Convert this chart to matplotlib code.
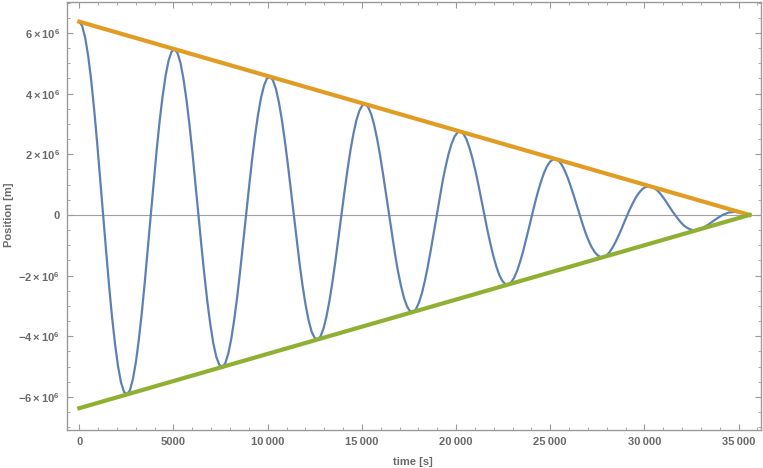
import matplotlib
matplotlib.use("Agg")
import matplotlib.pyplot as plt
from matplotlib.ticker import FixedLocator, MultipleLocator, FuncFormatter

# ---- Data, position in units of 1e6 m
t = [0, 158, 316, 474, 633, 791, 949, 1107, 1265, 1423, 1581, 1739, 1898, 2056, 2214, 2372,
     2530, 2688, 2846, 3004, 3163, 3321, 3479, 3637, 3795, 3953, 4111, 4269, 4428, 4586, 4744, 4902,
     5060, 5218, 5376, 5534, 5693, 5851, 6009, 6167, 6325, 6483, 6641, 6799, 6958, 7116, 7274, 7432,
     7590, 7748, 7906, 8064, 8223, 8381, 8539, 8697, 8855, 9013, 9171, 9329, 9488, 9646, 9804, 9962,
     10120, 10278, 10436, 10594, 10753, 10911, 11069, 11227, 11385, 11543, 11701, 11859, 12018, 12176, 12334, 12492,
     12650, 12808, 12966, 13124, 13283, 13441, 13599, 13757, 13915, 14073, 14231, 14389, 14548, 14706, 14864, 15022,
     15180, 15338, 15496, 15654, 15813, 15971, 16129, 16287, 16445, 16603, 16761, 16919, 17078, 17236, 17394, 17552,
     17710, 17868, 18026, 18184, 18343, 18501, 18659, 18817, 18975, 19133, 19291, 19449, 19608, 19766, 19924, 20082,
     20240, 20398, 20556, 20714, 20873, 21031, 21189, 21347, 21505, 21663, 21821, 21979, 22138, 22296, 22454, 22612,
     22770, 22928, 23086, 23244, 23403, 23561, 23719, 23877, 24035, 24193, 24351, 24509, 24668, 24826, 24984, 25142,
     25300, 25458, 25616, 25774, 25933, 26091, 26249, 26407, 26565, 26723, 26881, 27039, 27198, 27356, 27514, 27672,
     27830, 27988, 28146, 28304, 28463, 28621, 28779, 28937, 29095, 29253, 29411, 29569, 29728, 29886, 30044, 30202,
     30360, 30518, 30676, 30834, 30993, 31151, 31309, 31467, 31625, 31783, 31941, 32099, 32258, 32416, 32574, 32732,
     32890, 33048, 33206, 33364, 33523, 33681, 33839, 33997, 34155, 34313, 34471, 34629, 34788, 34946, 35104, 35262,
     35420, 35580]
pos = [6.37, 6.22, 5.83, 5.23, 4.43, 3.46, 2.37, 1.20, 0.0, -1.19, -2.33, -3.37, -4.26, -4.99, -5.52, -5.83,
       -5.92, -5.78, -5.41, -4.85, -4.10, -3.21, -2.20, -1.12, 0.0, 1.10, 2.16, 3.12, 3.94, 4.61, 5.10, 5.39,
       5.46, 5.33, 5.00, 4.47, 3.78, 2.96, 2.03, 1.03, 0.0, -1.02, -1.98, -2.86, -3.62, -4.24, -4.68, -4.94,
       -5.01, -4.89, -4.58, -4.10, -3.46, -2.71, -1.85, -0.94, 0.0, 0.93, 1.81, 2.61, 3.30, 3.86, 4.26, 4.50,
       4.56, 4.44, 4.16, 3.72, 3.14, 2.45, 1.68, 0.85, 0.0, -0.84, -1.64, -2.36, -2.98, -3.48, -3.85, -4.05,
       -4.11, -4.00, -3.74, -3.34, -2.82, -2.20, -1.51, -0.76, 0.0, 0.75, 1.46, 2.11, 2.66, 3.11, 3.43, 3.61,
       3.65, 3.55, 3.32, 2.97, 2.50, 1.95, 1.33, 0.67, 0.0, -0.66, -1.29, -1.86, -2.34, -2.73, -3.01, -3.17,
       -3.20, -3.11, -2.90, -2.59, -2.18, -1.70, -1.16, -0.59, 0.0, 0.57, 1.12, 1.60, 2.02, 2.35, 2.59, 2.72,
       2.75, 2.67, 2.49, 2.21, 1.86, 1.45, 0.99, 0.50, 0.0, -0.49, -0.94, -1.35, -1.70, -1.98, -2.17, -2.28,
       -2.29, -2.22, -2.07, -1.84, -1.54, -1.20, -0.81, -0.41, 0.0, 0.40, 0.77, 1.10, 1.38, 1.60, 1.75, 1.83,
       1.84, 1.78, 1.65, 1.46, 1.22, 0.94, 0.64, 0.32, 0.0, -0.31, -0.60, -0.85, -1.06, -1.22, -1.33, -1.39,
       -1.39, -1.33, -1.23, -1.08, -0.90, -0.69, -0.47, -0.23, 0.0, 0.22, 0.42, 0.60, 0.74, 0.85, 0.92, 0.94,
       0.93, 0.89, 0.81, 0.71, 0.58, 0.44, 0.29, 0.14, 0.0, -0.13, -0.25, -0.35, -0.42, -0.47, -0.50, -0.50,
       -0.48, -0.44, -0.39, -0.33, -0.26, -0.19, -0.12, -0.06, 0.0, 0.04, 0.08, 0.09, 0.10, 0.09, 0.08, 0.06,
       0.03, 0.0]

# envelope lines (start / end points)
env_t = [0, 35580]
upper = [6.371, 0.0]
lower = [-6.371, 0.0]

x_ticks = [0, 5000, 10000, 15000, 20000, 25000, 30000, 35000]
y_ticks = [-6, -4, -2, 0, 2, 4, 6]

# ---- Style
plt.rcParams['font.family'] = ['Liberation Sans', 'DejaVu Sans']
plt.rcParams['font.weight'] = 'bold'
plt.rcParams['mathtext.fontset'] = 'custom'
plt.rcParams['mathtext.rm'] = 'Liberation Sans:bold'
plt.rcParams['mathtext.it'] = 'Liberation Sans:bold'
plt.rcParams['mathtext.bf'] = 'Liberation Sans:bold'

frame_col = '#9a9a9a'
text_col = '#6a6a6a'

fig = plt.figure(figsize=(7.63, 4.68), dpi=100)
ax = fig.add_axes([67/763, 38/468, 694/763, 428/468])

ax.axhline(0, color='#a0a0a0', lw=0.8, zorder=1)
ax.plot(t, [p * 1e6 for p in pos], color='#5E81B5', lw=1.6, zorder=2)
ax.plot(env_t, [u * 1e6 for u in upper], color='#E19C24', lw=3.0, zorder=3)
ax.plot(env_t, [l * 1e6 for l in lower], color='#8FB032', lw=3.0, zorder=3)

ax.set_xlim(-653, 36190)
ax.set_ylim(-7.09e6, 7.02e6)

ax.xaxis.set_major_locator(FixedLocator(x_ticks))
ax.xaxis.set_minor_locator(MultipleLocator(1000))
ax.yaxis.set_major_locator(FixedLocator([v * 1e6 for v in y_ticks]))
ax.yaxis.set_minor_locator(MultipleLocator(0.5e6))


def fmt_x(v, _):
    v = int(round(v))
    if v >= 10000:
        return '%d\u2009%03d' % (v // 1000, v % 1000)
    return '%d' % v


def fmt_y(v, _):
    m = int(round(v / 1e6))
    if m == 0:
        return '0'
    return r'$%s%d\times10^{6}$' % ('-' if m < 0 else '', abs(m))


ax.xaxis.set_major_formatter(FuncFormatter(fmt_x))
ax.yaxis.set_major_formatter(FuncFormatter(fmt_y))

ax.tick_params(which='both', direction='in', top=True, right=True,
               color=frame_col, labelcolor=text_col, labelsize=8)
ax.tick_params(which='major', length=4, width=0.8, pad=5)
ax.tick_params(which='minor', length=2, width=0.6)
for s in ax.spines.values():
    s.set_color(frame_col)
    s.set_linewidth(1.0)

fig.text(9/763, 1 - 215/468, 'Position [m]', rotation=90, ha='center',
         va='center', color=text_col, fontsize=8)
fig.text(413/763, 6/468, 'time [s]', ha='center', va='center',
         color=text_col, fontsize=8)

fig.savefig('out.png', dpi=100)
